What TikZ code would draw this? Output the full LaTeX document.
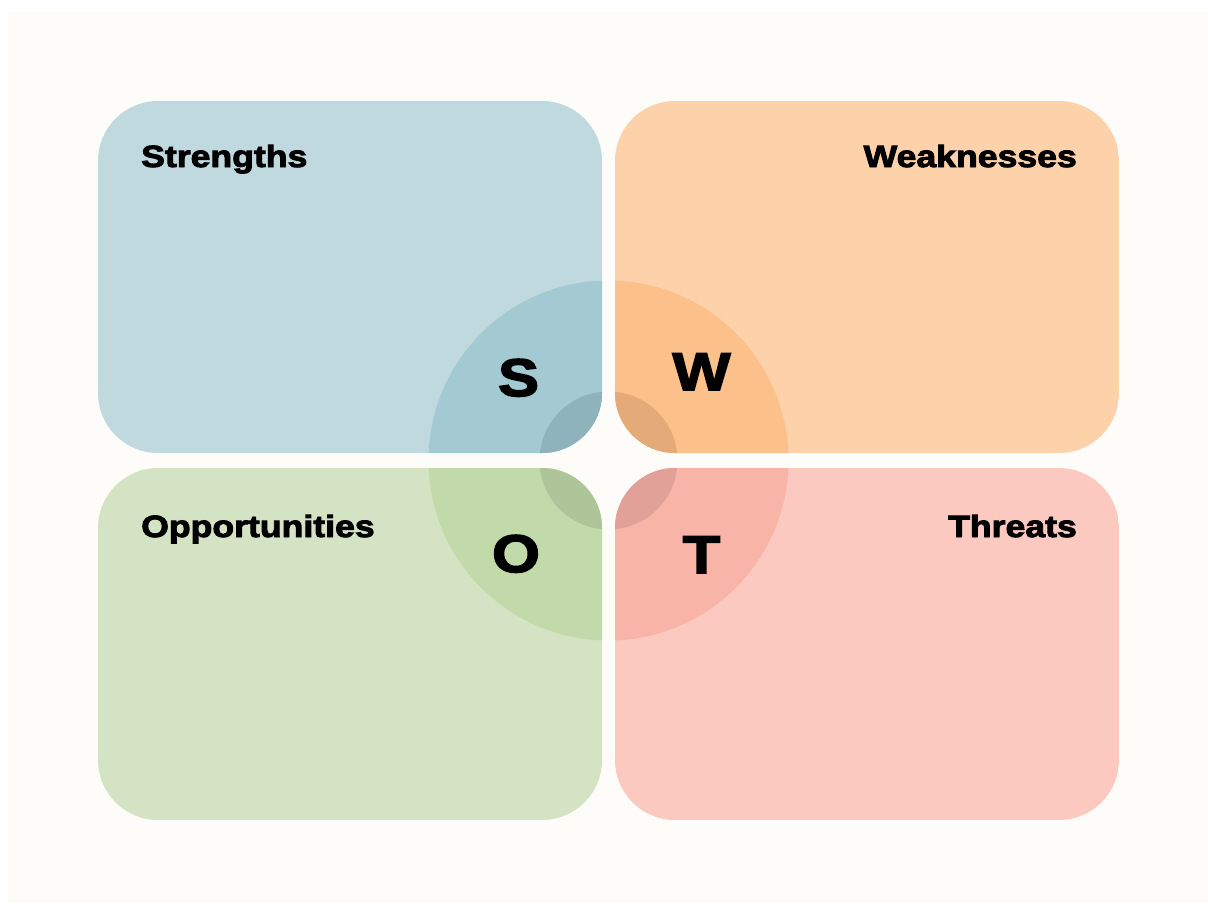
\documentclass[tikz,border=0pt]{standalone}
\usepackage{fontspec}
\newfontfamily\swotfont{Liberation Sans}[FakeBold=3,FakeStretch=1.16]
\definecolor{paper}{HTML}{FDFCF8}
\definecolor{baseS}{HTML}{BFD9DE}
\definecolor{midS}{HTML}{A3C9D2}
\definecolor{darkS}{HTML}{8FB3BC}
\definecolor{baseW}{HTML}{FDD1A9}
\definecolor{midW}{HTML}{FCC08A}
\definecolor{darkW}{HTML}{E4AB78}
\definecolor{baseO}{HTML}{D4E3C4}
\definecolor{midO}{HTML}{C2D9AA}
\definecolor{darkO}{HTML}{ADC598}
\definecolor{baseT}{HTML}{FBC9C0}
\definecolor{midT}{HTML}{F9B4A8}
\definecolor{darkT}{HTML}{E2A198}
\tikzset{quad/.style={rounded corners=60pt}}
\tikzset{tag/.style={font=\swotfont\bfseries\fontsize{30.7}{31}\selectfont,inner sep=0pt}}
\tikzset{letter/.style={font=\swotfont\bfseries\fontsize{53}{53}\selectfont,inner sep=0pt,anchor=base}}

\begin{document}
\begin{tikzpicture}[x=1pt,y=-1pt]
      \useasboundingbox (0,0) rectangle (1208,903);
      \fill[paper] (8,12) rectangle (1208,903);
      \pgfmathsetmacro{\boxw}{504}
      \pgfmathsetmacro{\boxh}{352}
      \foreach \x/\y/\c in {98/101/S,615/101/W,98/468/O,615/468/T} {
        \begin{scope}
          \clip[quad] (\x,\y) rectangle ++(\boxw,\boxh);
          \fill[base\c] (\x,\y) rectangle ++(\boxw,\boxh);
          \fill[mid\c] (608.5,460.5) circle[radius=180];
          \fill[dark\c] (608.5,460.5) circle[radius=69];
        \end{scope}
      }
      \node[tag,anchor=base west] at (141,167) (strengths) {Strengths};
      \node[tag,anchor=base east] at (1077,167) (weaknesses) {Weaknesses};
      \node[tag,anchor=base west] at (141,537) (opps) {Opportunities};
      \node[tag,anchor=base east] at (1077,537) (threats) {Threats};
      \node[letter] at (518.5,396) (S) {S};
      \node[letter] at (701.5,390) (W) {W};
      \node[letter] at (516,572) (O) {O};
      \node[letter] at (701.5,573) (T) {T};
    \end{tikzpicture}
\end{document}
